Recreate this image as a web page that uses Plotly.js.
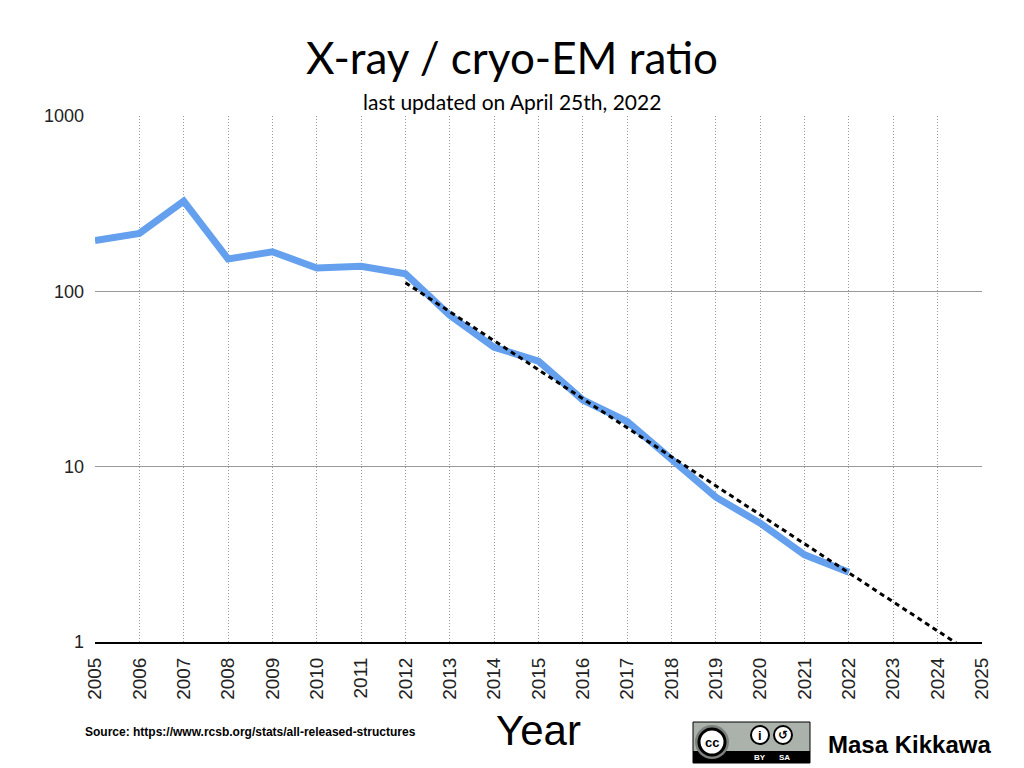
<!DOCTYPE html>
<html>
<head>
<meta charset="utf-8">
<script src="https://cdn.plot.ly/plotly-3.0.1.min.js"></script>
<style>
  html, body { margin: 0; padding: 0; background: #fff; }
  #chart { width: 1024px; height: 768px; }
</style>
</head>
<body>
<div id="chart"></div>
<script>
// X-ray / cryo-EM ratio per year
const years = [2005, 2006, 2007, 2008, 2009, 2010, 2011, 2012, 2013, 2014,
               2015, 2016, 2017, 2018, 2019, 2020, 2021, 2022];
const ratio = [195, 214, 327, 153, 168, 136, 139, 126, 73, 48,
               40, 24, 18.1, 10.9, 6.7, 4.76, 3.14, 2.5];

// exponential trend line, drawn from 2012 onwards
const trendYears = [2012, 2025];
const trendRatio = [112, 0.79];

const xTicks = [];
for (let y = 2005; y <= 2025; y++) xTicks.push(y);
const yTicks = [1, 10, 100, 1000];

// plot area in pixels, for placing the footer decorations
const L = 95, R = 982, T = 116, B = 642;
const px = x => (x - L) / (R - L);
const py = y => (B - y) / (B - T);

const traces = [
  {
    x: years, y: ratio, type: 'scatter', mode: 'lines',
    line: {color: '#64a0ee', width: 7},
    hoverinfo: 'x+y'
  },
  {
    x: trendYears, y: trendRatio, type: 'scatter', mode: 'lines',
    line: {color: '#000', width: 3, dash: '5px,4px'},
    hoverinfo: 'skip'
  }
];

const shapes = [
  // CC BY-SA badge
  {type: 'rect', xref: 'paper', yref: 'paper', x0: px(693), x1: px(810), y0: py(763), y1: py(722),
   fillcolor: '#aab2ab', line: {color: '#000', width: 1}, layer: 'above'},
  {type: 'rect', xref: 'paper', yref: 'paper', x0: px(693), x1: px(810), y0: py(763), y1: py(751),
   fillcolor: '#000', line: {width: 0}, layer: 'above'},
  {type: 'circle', xref: 'paper', yref: 'paper', x0: px(695), x1: px(729), y0: py(759), y1: py(725),
   fillcolor: '#7c807c', line: {width: 0}, layer: 'above'},
  {type: 'circle', xref: 'paper', yref: 'paper', x0: px(699), x1: px(725), y0: py(755), y1: py(729),
   fillcolor: '#fff', line: {color: '#000', width: 3}, layer: 'above'},
  {type: 'circle', xref: 'paper', yref: 'paper', x0: px(751), x1: px(769), y0: py(744), y1: py(726),
   fillcolor: '#fff', line: {color: '#000', width: 2}, layer: 'above'},
  {type: 'circle', xref: 'paper', yref: 'paper', x0: px(774), x1: px(792), y0: py(744), y1: py(726),
   fillcolor: '#fff', line: {color: '#000', width: 2}, layer: 'above'}
];

const annotations = [
  {text: 'last updated on April 25th, 2022', xref: 'paper', yref: 'paper',
   x: px(512), y: py(101), xanchor: 'center', yanchor: 'middle', showarrow: false,
   font: {family: 'Lato, sans-serif', size: 21, color: '#000'}},
  {text: '<b>Source: https://www.rcsb.org/stats/all-released-structures</b>', xref: 'paper', yref: 'paper',
   x: px(83), y: py(732), xanchor: 'left', yanchor: 'middle', showarrow: false,
   font: {family: 'Liberation Sans Narrow, Liberation Sans, Arial, sans-serif', size: 12, color: '#000'}},
  {text: 'Year', xref: 'paper', yref: 'paper',
   x: px(538), y: py(730), xanchor: 'center', yanchor: 'middle', showarrow: false,
   font: {family: 'Liberation Sans, Arial, sans-serif', size: 42, color: '#000'}},
  {text: '<b>Masa Kikkawa</b>', xref: 'paper', yref: 'paper',
   x: px(826), y: py(744), xanchor: 'left', yanchor: 'middle', showarrow: false,
   font: {family: 'Liberation Sans, Arial, sans-serif', size: 24, color: '#000'}},
  {text: '<b>cc</b>', xref: 'paper', yref: 'paper',
   x: px(712), y: py(742), xanchor: 'center', yanchor: 'middle', showarrow: false,
   font: {family: 'Liberation Sans, Arial, sans-serif', size: 13, color: '#000'}},
  {text: '<b>i</b>', xref: 'paper', yref: 'paper',
   x: px(760), y: py(735), xanchor: 'center', yanchor: 'middle', showarrow: false,
   font: {family: 'Liberation Sans, Arial, sans-serif', size: 13, color: '#000'}},
  {text: '<b>↺</b>', xref: 'paper', yref: 'paper',
   x: px(783), y: py(735), xanchor: 'center', yanchor: 'middle', showarrow: false,
   font: {family: 'DejaVu Sans, sans-serif', size: 12, color: '#000'}},
  {text: '<b>BY</b>', xref: 'paper', yref: 'paper',
   x: px(760), y: py(757), xanchor: 'center', yanchor: 'middle', showarrow: false,
   font: {family: 'Liberation Sans, Arial, sans-serif', size: 8, color: '#fff'}},
  {text: '<b>SA</b>', xref: 'paper', yref: 'paper',
   x: px(784), y: py(757), xanchor: 'center', yanchor: 'middle', showarrow: false,
   font: {family: 'Liberation Sans, Arial, sans-serif', size: 8, color: '#fff'}}
];

const layout = {
  width: 1024, height: 768,
  margin: {l: L, r: 1024 - R, t: T, b: 768 - B},
  paper_bgcolor: '#fff', plot_bgcolor: '#fff',
  showlegend: false,
  title: {
    text: 'X-ray / cryo-EM ratio',
    x: 0.5, xref: 'container', xanchor: 'center',
    y: 1 - 59 / 768, yanchor: 'middle',
    font: {family: 'Lato, sans-serif', size: 44, color: '#000'}
  },
  xaxis: {
    range: [2005, 2025],
    tickvals: xTicks, ticktext: xTicks.map(String),
    tickangle: -90,
    ticks: '',
    ticklabelstandoff: 6,
    showgrid: true, gridcolor: '#999', griddash: '1px,2px', gridwidth: 1,
    showline: true, linecolor: '#000', linewidth: 2,
    zeroline: false,
    tickfont: {family: 'Liberation Sans, Arial, sans-serif', size: 19, color: '#222'}
  },
  yaxis: {
    type: 'log',
    range: [0, 3],
    tickvals: yTicks, ticktext: yTicks.map(String),
    ticks: '',
    ticklabelstandoff: 10,
    showgrid: true, gridcolor: '#999', gridwidth: 1,
    showline: false, zeroline: false,
    tickfont: {family: 'Liberation Sans, Arial, sans-serif', size: 18, color: '#222'}
  },
  shapes: shapes,
  annotations: annotations
};

Plotly.newPlot('chart', traces, layout, {displayModeBar: false, staticPlot: true});
</script>
</body>
</html>
